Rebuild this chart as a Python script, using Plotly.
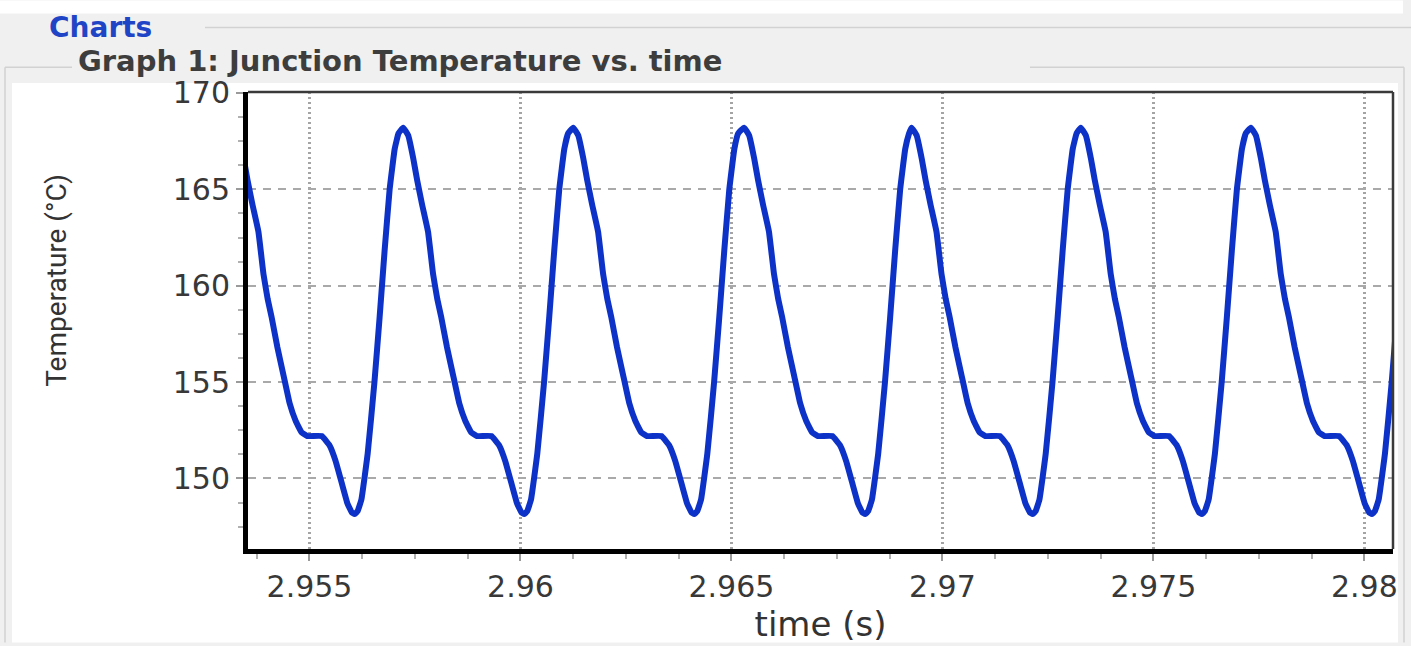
import plotly.graph_objects as go

# ---------------- data ----------------
# times (s) at which the junction temperature peaks
peak_times_s = [2.95320, 2.95722, 2.96125, 2.96530, 2.96927, 2.97328, 2.97731]
# one cycle of the waveform: time after the peak (ms) and temperature (°C)
cycle_offset_ms = [0.00, 0.12, 0.24, 0.33, 0.45, 0.59, 0.71, 0.81, 0.90, 1.04,
                   1.19, 1.33, 1.47, 1.61, 1.75, 2.09, 2.28, 2.42, 2.56, 2.70,
                   2.80, 2.87, 2.94, 3.03, 3.18, 3.34, 3.46, 3.58, 3.70, 3.82, 3.91]
cycle_temp_c = [168.2, 167.8, 166.6, 165.5, 164.2, 162.8, 160.6, 159.3, 158.4, 156.8,
                155.3, 153.9, 153.0, 152.4, 152.2, 152.2, 151.7, 150.9, 149.8, 148.7,
                148.25, 148.15, 148.3, 148.9, 151.3, 155.0, 158.3, 161.8, 165.0, 167.1, 167.9]

x_tick_vals = [2.955, 2.96, 2.965, 2.97, 2.975, 2.98]
x_tick_text = ["2.955", "2.96", "2.965", "2.97", "2.975", "2.98"]
y_tick_vals = [150, 155, 160, 165, 170]
y_tick_text = ["150", "155", "160", "165", "170"]

x_range = [2.953543, 2.98068]
y_range = [146.34, 170.05]

# whole trace = the read cycle placed at each read peak time
time_s = [p + off / 1000.0 for p in peak_times_s for off in cycle_offset_ms]
temp_c = [v for p in peak_times_s for v in cycle_temp_c]

# ---------------- layout geometry ----------------
W, H = 1411, 646
L, R, T, B = 248, 1393, 92, 552


def px(x):
    return (x - L) / (R - L)


def py(y):
    return (B - y) / (B - T)


BG = "#f0f0f0"
BORDER = "#d2d2d2"

fig = go.Figure()
fig.add_trace(go.Scatter(
    x=time_s, y=temp_c, mode="lines",
    line=dict(color="#0d32c8", width=6, shape="spline", smoothing=0.3),
    showlegend=False, hoverinfo="x+y",
))

shapes = [
    # white strip at the very top
    dict(type="rect", xref="paper", yref="paper", x0=px(0), x1=px(1403), y0=py(13), y1=py(0),
         fillcolor="white", line=dict(width=0), layer="below"),
    # header separator
    dict(type="line", xref="paper", yref="paper", x0=px(205), x1=px(1411), y0=py(27), y1=py(27),
         line=dict(color=BORDER, width=1.5), layer="below"),
    # group box border
    dict(type="line", xref="paper", yref="paper", x0=px(5), x1=px(72), y0=py(67), y1=py(67),
         line=dict(color=BORDER, width=1.5), layer="below"),
    dict(type="line", xref="paper", yref="paper", x0=px(1030), x1=px(1404), y0=py(67), y1=py(67),
         line=dict(color=BORDER, width=1.5), layer="below"),
    dict(type="line", xref="paper", yref="paper", x0=px(5), x1=px(5), y0=py(67), y1=py(646),
         line=dict(color=BORDER, width=1.5), layer="below"),
    # white inner panel
    dict(type="rect", xref="paper", yref="paper", x0=px(12), x1=px(1398), y0=py(646), y1=py(83),
         fillcolor="white", line=dict(width=0), layer="below"),
    # panel edge on the right (clips the last tick label like the original)
    dict(type="rect", xref="paper", yref="paper", x0=px(1398), x1=px(1411), y0=py(646), y1=py(83),
         fillcolor=BG, line=dict(width=0), layer="above"),
    dict(type="line", xref="paper", yref="paper", x0=px(1404), x1=px(1404), y0=py(67), y1=py(646),
         line=dict(color=BORDER, width=1.5), layer="above"),
    # thin top and right frame of the plot
    dict(type="line", xref="paper", yref="paper", x0=0, x1=1, y0=1, y1=1,
         line=dict(color="#3a3a3a", width=2.5), layer="above"),
    dict(type="line", xref="paper", yref="paper", x0=1, x1=1, y0=0, y1=1,
         line=dict(color="#3a3a3a", width=2.5), layer="above"),
]

tick_font = dict(family="DejaVu Sans", size=30, color="#383838")

fig.update_layout(
    width=W, height=H, autosize=False,
    margin=dict(l=L, r=W - R, t=T, b=H - B, pad=0),
    paper_bgcolor=BG, plot_bgcolor="white",
    shapes=shapes,
    title=dict(
        text="Graph 1: Junction Temperature vs. time",
        font=dict(family="DejaVu Sans", size=29, color="#3d3d3d", weight="bold"),
        x=78 / W, xref="container", xanchor="left",
        y=1 - 61 / H, yref="container", yanchor="middle",
    ),
    annotations=[
        dict(text="Charts", xref="paper", yref="paper", x=px(47), y=py(27),
             xanchor="left", yanchor="middle", showarrow=False,
             font=dict(family="DejaVu Sans", size=28, color="#1f45c6", weight="bold")),
        # y-axis title (placed like in the original, above the plot's centre)
        dict(text="Temperature (°C)", xref="paper", yref="paper", x=px(57), y=py(282),
             xanchor="center", yanchor="middle", showarrow=False, textangle=-90,
             font=dict(family="Roboto", size=28, color="#333333")),
    ],
)

fig.update_xaxes(
    range=x_range, tickmode="array", tickvals=x_tick_vals, ticktext=x_tick_text,
    ticks="outside", ticklen=7, tickwidth=2, tickcolor="#9a9a9a",
    tickfont=tick_font,
    showline=True, linewidth=5, linecolor="black",
    showgrid=True, gridcolor="#a4a4a4", gridwidth=2.5, griddash="2px,3px",
    zeroline=False,
    minor=dict(tickmode="linear", tick0=2.955, dtick=0.00125, ticks="outside",
               ticklen=5, tickwidth=2, tickcolor="#b0b0b0", showgrid=False),
    title=dict(text="time (s)", font=dict(family="DejaVu Sans", size=34, color="#333333"),
               standoff=6),
)

fig.update_yaxes(
    range=y_range, tickmode="array", tickvals=y_tick_vals, ticktext=y_tick_text,
    ticks="outside", ticklen=7, tickwidth=2, tickcolor="#9a9a9a",
    tickfont=tick_font,
    showline=True, linewidth=5, linecolor="black",
    showgrid=True, gridcolor="#a9a9a9", gridwidth=2, griddash="8px,7px",
    zeroline=False,
    minor=dict(tickmode="linear", tick0=150, dtick=1.25, ticks="outside",
               ticklen=5, tickwidth=2, tickcolor="#b0b0b0", showgrid=False),
)

fig.write_html("out.html", config={"displayModeBar": False},
               post_script="document.body.style.margin='0px';")
